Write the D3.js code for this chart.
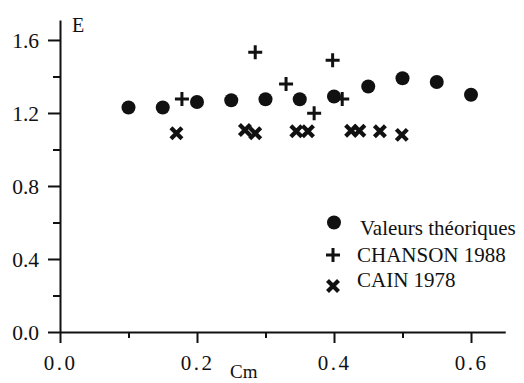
<!DOCTYPE html>
<html>
<head>
<meta charset="utf-8">
<script src="https://cdnjs.cloudflare.com/ajax/libs/d3/7.8.5/d3.min.js"></script>
<style>
  body { margin: 0; background: #fff; }
  svg { display: block; }
  svg text { font-family: "Liberation Serif", "Times New Roman", serif; }
</style>
</head>
<body>
<svg id="chart" width="524" height="383"></svg>
<script>
// values
var theoX = [0.10, 0.15, 0.20, 0.25, 0.30, 0.35, 0.40, 0.45, 0.50, 0.55, 0.60];
var theoY = [1.23, 1.23, 1.26, 1.27, 1.275, 1.275, 1.29, 1.345, 1.39, 1.37, 1.30];

var chansonX = [0.178, 0.285, 0.330, 0.371, 0.398, 0.412];
var chansonY = [1.277, 1.533, 1.359, 1.198, 1.489, 1.277];

var cainX = [0.170, 0.270, 0.285, 0.345, 0.362, 0.425, 0.437, 0.467, 0.499];
var cainY = [1.089, 1.107, 1.089, 1.100, 1.100, 1.103, 1.103, 1.100, 1.080];

var xMajor = [0.0, 0.2, 0.4, 0.6];
var xMinor = [0.1, 0.3, 0.5];
var yMajor = [0.0, 0.4, 0.8, 1.2, 1.6];
var yMinor = [0.2, 0.6, 1.0, 1.4];

var legendLabels = ["Valeurs théoriques", "CHANSON 1988", "CAIN 1978"];

var svg = d3.select("#chart");

var x = d3.scaleLinear().domain([0, 0.65]).range([60, 505.25]);
var y = d3.scaleLinear().domain([0, 1.71]).range([332, 19.9]);

// axes, major and minor ticks drawn separately
var gx = svg.append("g").attr("transform", "translate(0,332)");
gx.call(d3.axisBottom(x).tickValues(xMajor).tickSize(11).tickSizeOuter(0)
  .tickFormat(d3.format(".1f")));
var gxm = svg.append("g").attr("transform", "translate(0,332)");
gxm.call(d3.axisBottom(x).tickValues(xMinor).tickSize(6).tickFormat(""));
gxm.select(".domain").remove();

var gy = svg.append("g").attr("transform", "translate(60,0)");
gy.call(d3.axisLeft(y).tickValues(yMajor).tickSize(12).tickSizeOuter(0)
  .tickFormat(d3.format(".1f")));
var gym = svg.append("g").attr("transform", "translate(60,0)");
gym.call(d3.axisLeft(y).tickValues(yMinor).tickSize(7).tickFormat(""));
gym.select(".domain").remove();

svg.selectAll("g").attr("font-family", null);

svg.selectAll(".domain, .tick line")
  .attr("stroke", "#111").attr("stroke-width", 2);

gx.selectAll(".tick text")
  .attr("font-size", 21)
  .attr("letter-spacing", 2.5).attr("fill", "#111").attr("dy", "1.12em");
gy.selectAll(".tick text")
  .attr("font-size", 21.5)
  .attr("fill", "#111").attr("x", -21).attr("dy", "0.34em");

// axis titles
svg.append("text").attr("x", 72).attr("y", 32)
  .attr("font-size", 20).attr("fill", "#111").text("E");
svg.append("text").attr("x", 230).attr("y", 378)
  .attr("font-size", 19).attr("fill", "#111").text("Cm");

// markers
function plus(g) {
  g.append("path").attr("d", "M-7,0H7M0,-7V7")
    .attr("stroke", "#111").attr("stroke-width", 3).attr("fill", "none");
}
function cross(g) {
  g.append("path").attr("d", "M-5.5,-5.5L5.5,5.5M-5.5,5.5L5.5,-5.5")
    .attr("stroke", "#111").attr("stroke-width", 4.2).attr("fill", "none");
}

svg.append("g").selectAll("circle")
  .data(theoX)
  .enter().append("circle")
  .attr("cx", d => x(d))
  .attr("cy", (d, i) => y(theoY[i]))
  .attr("r", 7)
  .attr("fill", "#111");

svg.append("g").selectAll("g")
  .data(chansonX)
  .enter().append("g")
  .attr("transform", (d, i) => "translate(" + x(d) + "," + y(chansonY[i]) + ")")
  .each(function() { plus(d3.select(this)); });

svg.append("g").selectAll("g")
  .data(cainX)
  .enter().append("g")
  .attr("transform", (d, i) => "translate(" + x(d) + "," + y(cainY[i]) + ")")
  .each(function() { cross(d3.select(this)); });

// legend
var leg = svg.append("g");
var legY = [222.5, 255, 286];
var legText = [235, 262, 287];
leg.append("circle").attr("cx", 334).attr("cy", legY[0]).attr("r", 7).attr("fill", "#111");
plus(leg.append("g").attr("transform", "translate(333," + legY[1] + ")"));
cross(leg.append("g").attr("transform", "translate(333," + legY[2] + ")"));

leg.selectAll("text")
  .data(legendLabels)
  .enter().append("text")
  .attr("x", (d, i) => i === 0 ? 360 : 357)
  .attr("y", (d, i) => legText[i])
  .attr("font-size", 21)
  .attr("fill", "#111")
  .text(d => d);
</script>
</body>
</html>
